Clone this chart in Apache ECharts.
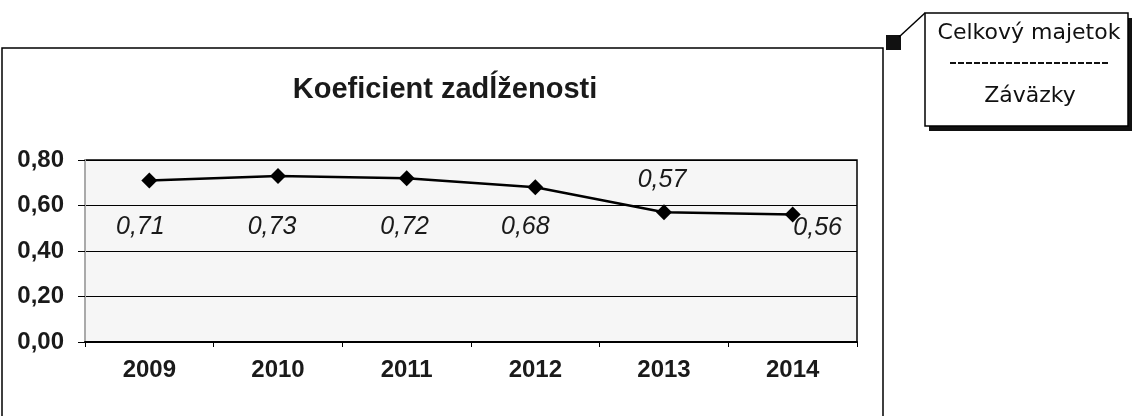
<!DOCTYPE html>
<html lang="sk">
<head>
    <meta charset="UTF-8">
    <title>Koeficient zadĺženosti</title>
    <script src="https://cdn.jsdelivr.net/npm/echarts@6/dist/echarts.min.js"></script>
    <style>
        html, body { margin: 0; padding: 0; background: #ffffff; }
        #chart { width: 1136px; height: 416px; }
    </style>
</head>
<body>
<div id="chart"></div>
<script type="text/javascript">
    // data
    var years = ['2009', '2010', '2011', '2012', '2013', '2014'];
    var ratio = [0.71, 0.73, 0.72, 0.68, 0.57, 0.56];
    var titleText = 'Koeficient zadĺženosti';
    var noteTop = 'Celkový majetok';
    var noteBottom = 'Záväzky';

    // where each value label sits relative to its point
    var labelShift = [[-9, 47], [-6, 51], [-2, 49], [-10, 40], [-2, -32], [25, 13]];

    var fmt = function (v) { return v.toFixed(2).replace('.', ','); };

    var myChart = echarts.init(document.getElementById('chart'));

    var option = {
        animation: false,
        backgroundColor: '#ffffff',
        textStyle: { fontFamily: 'Liberation Sans' },
        title: {
            text: titleText,
            left: 440,
            top: 70,
            textAlign: 'center',
            textStyle: { fontFamily: 'Liberation Sans', fontSize: 29, fontWeight: 'bold', color: '#1a1a1a' }
        },
        grid: {
            left: 85, right: 279, top: 160, bottom: 74,
            show: true,
            backgroundColor: '#f6f6f6',
            borderColor: '#000',
            borderWidth: 1.5
        },
        xAxis: {
            type: 'category',
            data: years,
            boundaryGap: true,
            axisLine: { lineStyle: { color: '#000', width: 2 } },
            axisTick: { show: true, length: 5, lineStyle: { color: '#000' } },
            axisLabel: { color: '#1a1a1a', fontSize: 24, fontWeight: 'bold', margin: 16 }
        },
        yAxis: {
            type: 'value',
            min: 0,
            max: 0.8,
            interval: 0.2,
            axisLine: { show: true, lineStyle: { color: '#aaa', width: 2 } },
            axisTick: { show: true, length: 7, lineStyle: { color: '#000' } },
            axisLabel: { color: '#1a1a1a', fontSize: 24, fontWeight: 'bold', margin: 21, formatter: fmt },
            splitLine: { show: true, lineStyle: { color: '#000', width: 1 } }
        },
        series: [{
            type: 'line',
            symbol: 'diamond',
            symbolSize: 16,
            itemStyle: { color: '#000' },
            lineStyle: { color: '#000', width: 2.5 },
            data: ratio.map(function (v, i) {
                return {
                    value: v,
                    label: {
                        show: true,
                        position: 'inside',
                        offset: labelShift[i],
                        formatter: fmt(v),
                        fontStyle: 'italic',
                        fontSize: 25,
                        color: '#1a1a1a'
                    }
                };
            })
        }],
        graphic: [
            // outer chart frame
            { type: 'rect', shape: { x: 2, y: 48, width: 881, height: 400 }, style: { fill: 'none', stroke: '#000', lineWidth: 1.5 } },
            // callout
            { type: 'rect', shape: { x: 886, y: 35, width: 15, height: 15 }, style: { fill: '#111' } },
            { type: 'line', shape: { x1: 899, y1: 37, x2: 925, y2: 13 }, style: { stroke: '#000', lineWidth: 1.5 } },
            { type: 'rect', shape: { x: 929, y: 18, width: 203, height: 113 }, style: { fill: '#111' } },
            { type: 'rect', shape: { x: 925, y: 13, width: 203, height: 113 }, style: { fill: '#fff', stroke: '#000', lineWidth: 1.5 } },
            { type: 'text', x: 1029, y: 33, style: { text: noteTop, fontFamily: 'DejaVu Sans', fontSize: 22, fill: '#111', align: 'center', verticalAlign: 'middle' } },
            { type: 'line', shape: { x1: 950, y1: 63, x2: 1110, y2: 63 }, style: { stroke: '#111', lineWidth: 2, lineDash: [6, 2] } },
            { type: 'text', x: 1030, y: 96, style: { text: noteBottom, fontFamily: 'DejaVu Sans', fontSize: 22, fill: '#111', align: 'center', verticalAlign: 'middle' } }
        ]
    };
    myChart.setOption(option);
</script>
</body>
</html>
